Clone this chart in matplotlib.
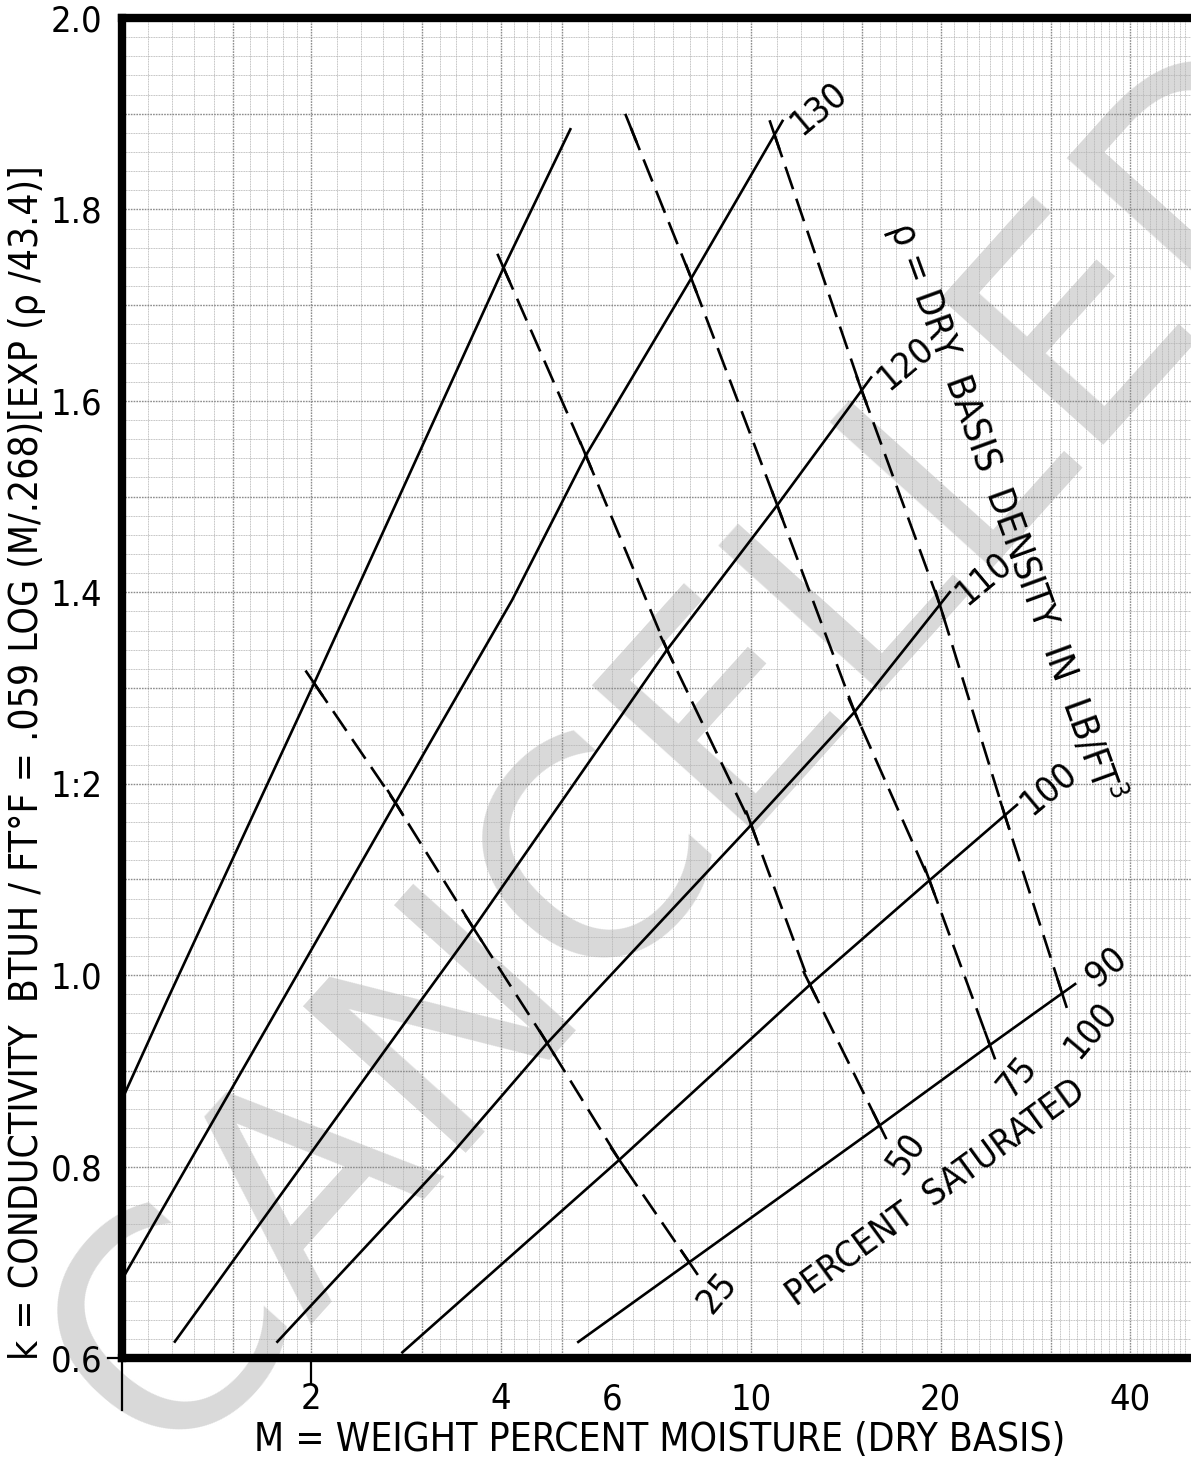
"""
Kersten type soil conductivity chart (sand): k vs moisture with density and saturation lines
"""
import numpy as np
import matplotlib
matplotlib.use('Agg')
import matplotlib.pyplot as plt

plt.rcParams['font.family'] = ['DejaVu Sans']
plt.rcParams['font.stretch'] = 'condensed'

# ---- data: dry density lines (lb/ft3) ----
rho_values = [140, 130, 120, 110, 100, 90]
rho_labels = ['', '130', '120', '110', '100', '90']
m_rho = [
    [1.0, 1.18, 2.02, 4.04, 5.17],
    [1.0, 1.80, 2.72, 4.17, 5.46, 8.03, 10.89],
    [1.21, 2.99, 3.62, 7.35, 11.0, 14.98],
    [1.76, 3.31, 4.74, 10.0, 14.6, 19.94],
    [2.78, 6.17, 12.4, 19.2, 25.3],
    [5.29, 7.97, 16.0, 23.95, 31.2],
]
k_rho = [
    [0.870, 0.974, 1.305, 1.739, 1.885],
    [0.682, 0.974, 1.180, 1.392, 1.543, 1.728, 1.878],
    [0.616, 0.974, 1.049, 1.340, 1.491, 1.611],
    [0.616, 0.810, 0.929, 1.157, 1.275, 1.387],
    [0.605, 0.807, 0.990, 1.099, 1.167],
    [0.616, 0.700, 0.843, 0.927, 0.981],
]

# ---- percent saturated lines ----
sat_labels = ['25', '50', '75', '100']
m_sat = [
    [2.02, 2.72, 3.62, 4.74, 6.17, 7.97],
    [4.04, 5.46, 7.35, 10.0, 12.4, 16.0],
    [6.44, 8.03, 11.0, 14.6, 19.2, 23.95],
    [10.89, 14.98, 19.94, 25.3, 31.2],
]
k_sat = [
    [1.305, 1.180, 1.049, 0.929, 0.807, 0.700],
    [1.739, 1.543, 1.340, 1.157, 0.990, 0.843],
    [1.885, 1.728, 1.491, 1.275, 1.099, 0.927],
    [1.878, 1.611, 1.387, 1.167, 0.981],
]

x_ticks = [2, 4, 6, 10, 20, 40]
y_ticks = [0.6, 0.8, 1.0, 1.2, 1.4, 1.6, 1.8, 2.0]
y_ticklabels = ['0.6', '0.8', '1.0', '1:2', '1.4', '1.6', '1.8', '2.0']

W, H = 1191, 1461
fig = plt.figure(figsize=(W / 100, H / 100), dpi=100)
fig.patch.set_facecolor('white')
ax = fig.add_axes([122 / W, 1 - 1358 / H, (1191 - 122) / W, 1340 / H])
ax.set_xscale('log')
ax.set_xlim(1, 50)
ax.set_ylim(0.6, 2.0)

# graph paper grid
vgrid = np.concatenate([np.arange(1.1, 2.0, 0.1), np.arange(2.0, 5.0, 0.2),
                        np.arange(5.0, 10.0, 0.5), np.arange(10, 20, 1.0),
                        np.arange(20, 50, 1.0)])
for v in vgrid:
    major = any(abs(v - m) < 1e-6 for m in [1.5, 2, 3, 4, 5, 10, 15, 20, 30, 40])
    ax.axvline(v, color='#8c8c8c' if major else '#b4b4b4', lw=1.0 if major else 0.6,
               ls=(0, (1.2, 0.8)), zorder=1)
for h in np.arange(0.62, 2.0, 0.02):
    major = abs(h * 10 - round(h * 10)) < 1e-6
    ax.axhline(h, color='#8c8c8c' if major else '#b4b4b4', lw=1.0 if major else 0.6,
               ls=(0, (1.2, 0.8)), zorder=1)

# CANCELLED watermark (behind the drawing)
ax.text(0.588, 0.487, 'CANCELLED', transform=fig.transFigure, rotation=48,
        fontsize=215, color='#d9d9d9', family='DejaVu Sans', stretch='normal',
        ha='center', va='center', rotation_mode='anchor', zorder=0.5, clip_on=False)


def short_seg(xs, ys, i, j, length):
    """point at given pixel distance from point i, in the direction of point j"""
    p = ax.transData.transform((xs[i], ys[i]))
    q = ax.transData.transform((xs[j], ys[j]))
    d = (q - p) / np.hypot(*(q - p))
    return ax.transData.inverted().transform(p + d * length)


# density lines
for m, k, lab in zip(m_rho, k_rho, rho_labels):
    ax.plot(m, k, color='black', lw=1.9, zorder=4, solid_capstyle='butt')
    if lab:
        ext = short_seg(m, k, len(m) - 1, len(m) - 2, -16)
        ax.plot([m[-1], ext[0]], [k[-1], ext[1]], color='black', lw=1.9, zorder=4)
        ax.annotate(lab, (m[-1], k[-1]), xytext=(44, 27), textcoords='offset pixels',
                    fontsize=26, rotation=40, ha='center', va='center', zorder=6)

# saturation lines
sat_off = [(28, -30), (26, -28), (27, -31), (28, -36)]
sat_rot = [50, 55, 50, 50]
for m, k, lab, off, rot in zip(m_sat, k_sat, sat_labels, sat_off, sat_rot):
    ax.plot(m, k, color='black', lw=1.9, ls=(0, (9, 3.8)), zorder=4)
    n = len(m)
    for i in range(n):
        j = i + 1 if i < n - 1 else i - 1
        a = short_seg(m, k, i, j, 14)
        b = short_seg(m, k, i, j, -14)
        ax.plot([b[0], a[0]], [b[1], a[1]], color='black', lw=1.9, zorder=5)
    ax.annotate(lab, (m[-1], k[-1]), xytext=off, textcoords='offset pixels',
                fontsize=26, rotation=rot, ha='center', va='center', zorder=6)

ax.text(19.6, 0.773, 'PERCENT  SATURATED', rotation=36, fontsize=26,
        ha='center', va='center', rotation_mode='anchor', zorder=6)
ax.text(25.3, 1.484, r'ρ = DRY  BASIS  DENSITY  IN  LB/FT$^3$', rotation=-70,
        fontsize=27, ha='center', va='center', rotation_mode='anchor', zorder=6)

# frame
for s in ['top', 'left', 'bottom']:
    ax.spines[s].set_linewidth(6)
    ax.spines[s].set_zorder(7)
ax.spines['right'].set_visible(False)

ax.set_xticks([])
ax.set_xticks([], minor=True)
ax.set_yticks(y_ticks)
ax.set_yticklabels(y_ticklabels, fontsize=26)
ax.set_yticks([], minor=True)
ax.tick_params(axis='y', length=0, pad=14)
for xt in x_ticks:
    ax.text(xt, -0.018, str(xt), transform=ax.get_xaxis_transform(), fontsize=26,
            ha='center', va='top')
ax.plot([1, 1], [0, -0.039], color='black', lw=1.6, transform=ax.get_xaxis_transform(),
        clip_on=False, zorder=8)
ax.plot([2, 2], [0, -0.019], color='black', lw=1.6, transform=ax.get_xaxis_transform(),
        clip_on=False, zorder=8)
ax.plot([0, -0.013], [0, 0], color='black', lw=1.6, transform=ax.transAxes,
        clip_on=False, zorder=8)

fig.text(660 / W, 1 - 1440 / H, 'M = WEIGHT PERCENT MOISTURE (DRY BASIS)',
         fontsize=28, ha='center', va='center')
fig.text(27 / W, 1 - 763 / H,
         'k = CONDUCTIVITY  BTUH / FT°F = .059 LOG (M/.268)[EXP (ρ /43.4)]',
         fontsize=28, rotation=90, ha='center', va='center')

fig.savefig('out.png', dpi=100, facecolor='white')
